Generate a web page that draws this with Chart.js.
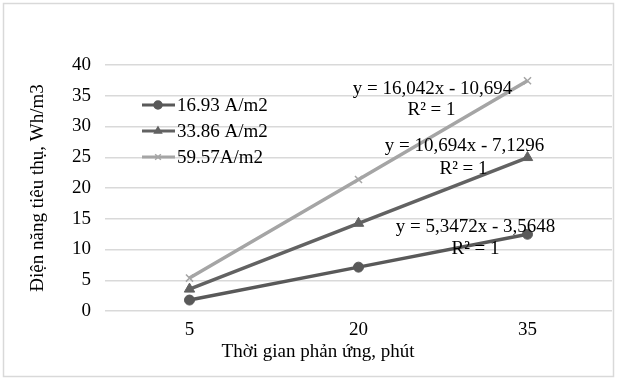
<!DOCTYPE html>
<html>
<head>
<meta charset="utf-8">
<script src="https://cdn.jsdelivr.net/npm/chart.js@4"></script>
<style>
  html, body { margin: 0; padding: 0; background: #fff; }
  #wrap { width: 619px; height: 380px; }
</style>
</head>
<body>
<div id="wrap"><canvas id="myChart" width="619" height="380"></canvas></div>
<script>
const times = ['5', '20', '35'];
const seriesNames = ['16.93 A/m2', '33.86 A/m2', '59.57A/m2'];
const energy1693 = [1.78, 7.13, 12.48];
const energy3386 = [3.56, 14.26, 24.95];
const energy5957 = [5.35, 21.39, 37.43];
const equations = ['y = 5,3472x - 3,5648', 'y = 10,694x - 7,1296', 'y = 16,042x - 10,694'];
const yTicks = [0, 5, 10, 15, 20, 25, 30, 35, 40];

const FONT = '"Liberation Serif", "Times New Roman", serif';
const FONT_SIZE = 19;
const colors = ['#595959', '#626262', '#a5a5a5'];
const markers = ['circle', 'triangle', 'crossRot'];

// khung viền, chú giải, phương trình và tên trục
const decorations = {
    id: 'decorations',
    afterDraw(chart) {
        const ctx = chart.ctx;
        const area = chart.chartArea;
        const xs = chart.scales.x;
        const ys = chart.scales.y;
        ctx.save();

        ctx.strokeStyle = '#d9d9d9';
        ctx.lineWidth = 1.5;
        ctx.strokeRect(3.5, 3.5, 610, 373);

        // chú giải
        ctx.font = FONT_SIZE + 'px ' + FONT;
        ctx.textBaseline = 'middle';
        ctx.textAlign = 'left';
        chart.data.datasets.forEach((ds, i) => {
            const y = 105 + i * 26;
            ctx.strokeStyle = ds.borderColor;
            ctx.lineWidth = 3;
            ctx.beginPath();
            ctx.moveTo(142, y);
            ctx.lineTo(175, y);
            ctx.stroke();
            ctx.fillStyle = ds.borderColor;
            ctx.lineWidth = 1.5;
            Chart.helpers.drawPoint(ctx, {pointStyle: ds.pointStyle, radius: 4, rotation: 0, borderWidth: 1.5}, 158, y);
            ctx.fillStyle = '#000';
            ctx.fillText(seriesNames[i], 177, y + 1);
        });

        // phương trình hồi quy
        const offsets = [[-52, -7, -52, 15], [-63, -12, -64, 11], [-95, 8, -96, 29]];
        ctx.textAlign = 'center';
        ctx.fillStyle = '#000';
        chart.data.datasets.forEach((ds, i) => {
            const last = ds.data.length - 1;
            const px = xs.getPixelForValue(last);
            const py = ys.getPixelForValue(ds.data[last]);
            const o = offsets[i];
            ctx.fillText(equations[i], px + o[0], py + o[1]);
            ctx.fillText('R² = 1', px + o[2], py + o[3]);
        });

        // tên trục
        ctx.fillText('Thời gian phản ứng, phút', 318, 352);
        ctx.translate(38, (area.top + area.bottom) / 2);
        ctx.rotate(-Math.PI / 2);
        ctx.fillText('Điện năng tiêu thụ, Wh/m3', 0, 0);
        ctx.restore();
    }
};

const datasets = [energy1693, energy3386, energy5957].map((values, i) => ({
    label: seriesNames[i],
    data: values,
    borderColor: colors[i],
    backgroundColor: colors[i],
    borderWidth: 3.5,
    pointStyle: markers[i],
    pointRadius: i === 1 ? 6 : 5,
    pointBorderWidth: i === 2 ? 1.5 : 1,
    tension: 0,
    fill: false
}));

new Chart(document.getElementById('myChart'), {
    type: 'line',
    data: { labels: times, datasets: datasets },
    plugins: [decorations],
    options: {
        responsive: false,
        animation: false,
        layout: { padding: { top: 65, right: 5, left: 0, bottom: 0 } },
        plugins: {
            legend: { display: false },
            tooltip: { enabled: false }
        },
        scales: {
            x: {
                offset: true,
                grid: { display: false, drawTicks: false },
                border: { display: false },
                ticks: { color: '#000', font: { family: FONT, size: FONT_SIZE }, padding: 8 },
                afterFit(scale) { scale.height = 69; }
            },
            y: {
                min: 0,
                max: 40,
                afterBuildTicks(scale) { scale.ticks = yTicks.map(v => ({ value: v })); },
                grid: { color: '#d9d9d9', lineWidth: 1.5, drawTicks: false },
                border: { display: false },
                ticks: { color: '#000', font: { family: FONT, size: FONT_SIZE }, padding: 14 },
                afterFit(scale) { scale.width = 105; }
            }
        }
    }
});
</script>
</body>
</html>
